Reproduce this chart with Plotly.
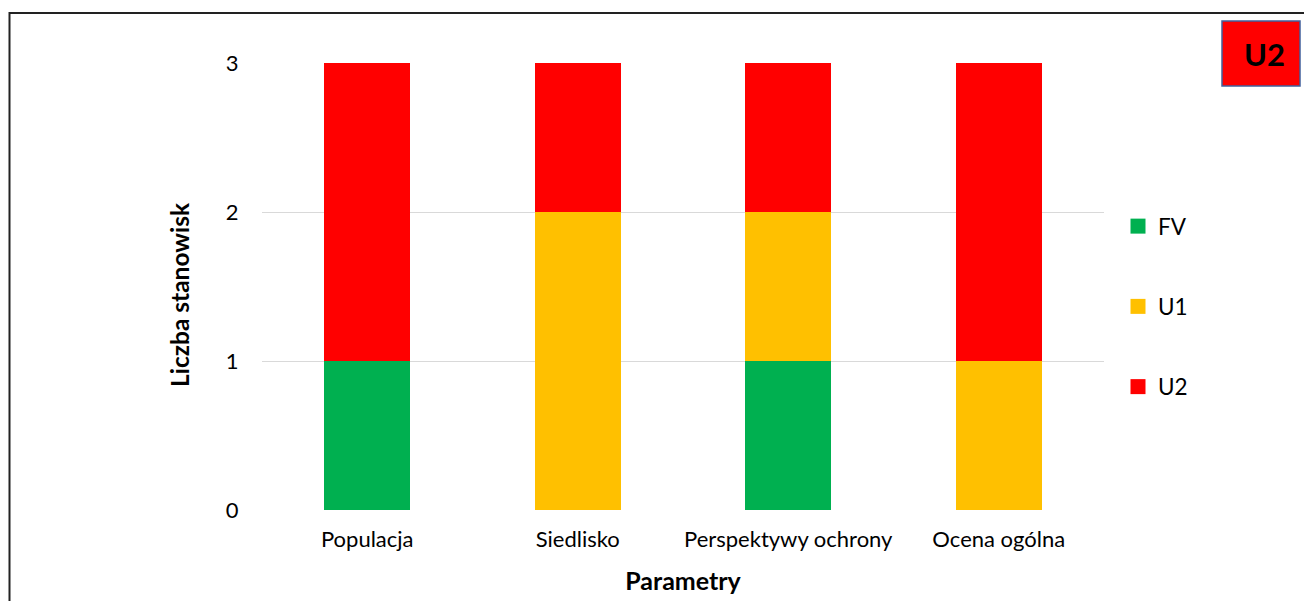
import plotly.graph_objects as go

categories = ["Populacja", "Siedlisko", "Perspektywy ochrony", "Ocena ogólna"]
fv = [1, 0, 1, 0]
u1 = [0, 2, 1, 1]
u2 = [2, 1, 1, 2]
series_names = ["FV", "U1", "U2"]
colors = ["#00B050", "#FFC000", "#FF0000"]

W, H = 1304, 601
L, R, T, B = 262, 1104, 63, 510  # plot area pixels


def px(x):
    return (x - L) / (R - L)


def py(y):
    return (B - y) / (B - T)


FONT = "Lato"

fig = go.Figure()
for name, vals, col in zip(series_names, [fv, u1, u2], colors):
    fig.add_trace(go.Bar(x=categories, y=vals, name=name, marker_color=col,
                         marker_line_width=0, legendgroup=name, showlegend=False))
# legend entries with square symbols
for name, col in zip(series_names, colors):
    fig.add_trace(go.Scatter(x=[None], y=[None], mode="markers", name=name,
                             marker=dict(symbol="square", size=15, color=col),
                             legendgroup=name, showlegend=True))

fig.update_layout(
    width=W, height=H,
    barmode="stack", bargap=0.59,
    plot_bgcolor="white", paper_bgcolor="white",
    margin=dict(l=L, r=W - R, t=T, b=H - B, autoexpand=False),
    font=dict(family=FONT, size=22, color="#000000"),
    legend=dict(x=px(1118), y=py(205), xanchor="left", yanchor="top",
                traceorder="grouped", tracegroupgap=48,
                font=dict(size=22.5), itemwidth=30),
    xaxis=dict(title=dict(text="<b>Parametry</b>", font=dict(size=25), standoff=21),
               showline=False, ticks="", tickfont=dict(size=22), ticklabelstandoff=14,
               automargin=False),
    yaxis=dict(range=[0, 3], dtick=1, showgrid=True, gridcolor="#D9D9D9", gridwidth=1.3,
               zeroline=False, ticks="", tickfont=dict(size=22), ticksuffix="    ",
               automargin=False),
    shapes=[
        dict(type="line", xref="paper", yref="paper", x0=px(9.5), x1=px(1310),
             y0=py(13), y1=py(13), line=dict(color="#222222", width=2)),
        dict(type="line", xref="paper", yref="paper", x0=px(9.5), x1=px(9.5),
             y0=py(12), y1=py(610), line=dict(color="#222222", width=2)),
        dict(type="rect", xref="paper", yref="paper", x0=px(1222), x1=px(1300),
             y0=py(86), y1=py(21), fillcolor="#FF0000",
             line=dict(color="#41609C", width=1.5)),
    ],
    annotations=[
        dict(text="<b>U2</b>", xref="paper", yref="paper", x=px(1264), y=py(54),
             xanchor="center", yanchor="middle", showarrow=False,
             font=dict(size=31, color="#000000", family=FONT)),
        dict(text="<b>Liczba stanowisk</b>", xref="paper", yref="paper",
             x=px(179), y=py(295), xanchor="center", yanchor="middle",
             textangle=-90, showarrow=False,
             font=dict(size=24.5, color="#000000", family=FONT)),
    ],
)

fig.write_html("out.html", config={"displayModeBar": False},
               post_script="document.body.style.margin='0';")
